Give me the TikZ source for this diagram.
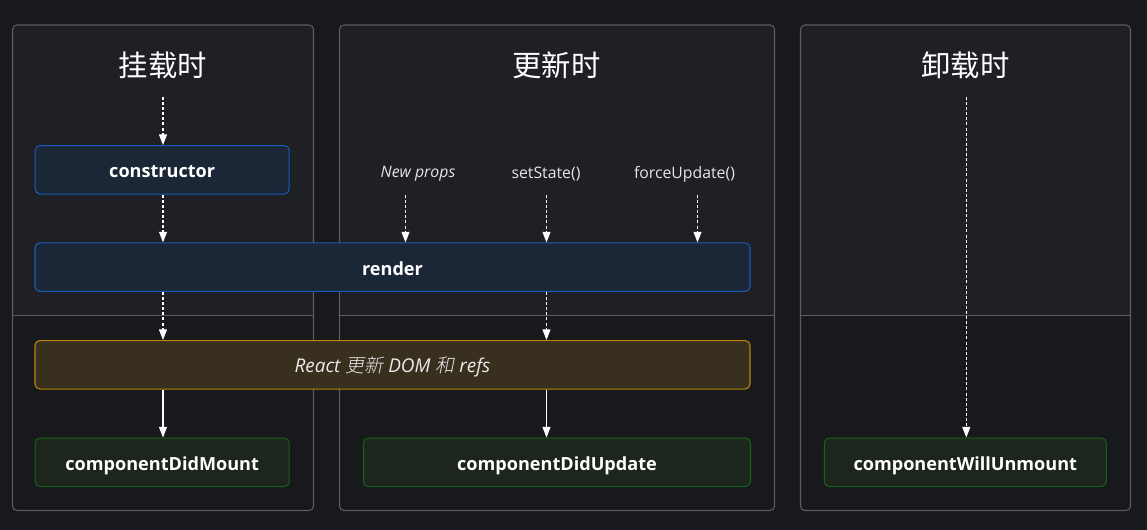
\documentclass[tikz,border=0pt]{standalone}
\usepackage{fontspec}
\setmainfont{Open Sans}
\newfontfamily\cjk{Noto Sans CJK SC}
\newfontfamily\cjkit[FakeSlant=0.2]{Noto Sans CJK SC Light}
\usetikzlibrary{arrows.meta}
\definecolor{bgc}{HTML}{18191D}
\definecolor{panelup}{HTML}{1F2025}
\definecolor{panelline}{HTML}{5C5D61}
\definecolor{bluefill}{HTML}{1B2636}
\definecolor{blueline}{HTML}{1A5BB5}
\definecolor{orangefill}{HTML}{382F1F}
\definecolor{orangeline}{HTML}{B8860B}
\definecolor{greenfill}{HTML}{1D261D}
\definecolor{greenline}{HTML}{176117}
\def\pxu{0.02cm}
\tikzset{
  phase/.style={text=white,font=\cjk\fontsize{16.7}{20}\selectfont},
  trig/.style={text=white!90!black,font=\fontsize{9}{11}\selectfont},
  box/.style={rounded corners=2.8pt,line width=0.6pt,minimum height=48.5*\pxu,inner sep=0pt,text height=0.9em,text depth=0pt,text=white,font=\bfseries\fontsize{10.3}{12}\selectfont},
  bluebox/.style={box,draw=blueline,fill=bluefill},
  orangebox/.style={box,draw=orangeline,fill=orangefill,font=\itshape\fontsize{10.8}{12}\selectfont,text=white!92!black},
  greenbox/.style={box,draw=greenline,fill=greenfill},
  solidarrow/.style={white,line width=0.6pt,-{Triangle[width=4.5pt,length=6pt]}},
  dasharrow/.style={solidarrow,dash pattern=on 1.7pt off 1.2pt}
}
\begin{document}
\begin{tikzpicture}[x=\pxu,y=-\pxu]
\fill[bgc] (0,0) rectangle (1147,530);
\foreach \l/\r in {12.5/313.5,339.5/774.5,800.5/1130.5}{
  \begin{scope}
    \clip[rounded corners=2.5pt] (\l,25) rectangle (\r,510.5);
    \fill[panelup] (\l,25) rectangle (\r,315.3);
  \end{scope}
  \draw[panelline,line width=0.6pt,rounded corners=2.5pt] (\l,25) rectangle (\r,510.5);
  \draw[panelline,line width=0.6pt] (\l,315.3) -- (\r,315.3);
}

\node[phase] (mount) at (163,65) {挂载时};
\node[phase] (update) at (556.5,65) {更新时};
\node[phase] (unmount) at (965.5,65) {卸载时};

\node[trig] (newprops) at (418,174) {\itshape New props};
\node[trig] (setstate) at (546,174) {setState()};
\node[trig] (forceupd) at (684.5,174) {forceUpdate()};

\node[bluebox,minimum width=254*\pxu] (ctor) at (162.2,169.8) {constructor};
\node[bluebox,minimum width=715*\pxu] (render) at (392.5,267.2) {render};
\node[orangebox,minimum width=715*\pxu] (react) at (392.5,364.8) {React {\cjkit 更新} DOM {\cjkit 和} refs};
\node[greenbox,minimum width=254*\pxu] (didmount) at (162.2,462.3) {componentDidMount};
\node[greenbox,minimum width=387*\pxu] (didupdate) at (557,462.3) {componentDidUpdate};
\node[greenbox,minimum width=282*\pxu] (willunmount) at (965.3,462.3) {componentWillUnmount};

\coordinate (mtop) at (163,97);
\coordinate (utop) at (966.3,97);
\coordinate (np) at (405.5,195);
\coordinate (ss) at (546.5,195);
\coordinate (fu) at (697.5,195);

\draw[dasharrow] (mtop) -- (mtop |- ctor.north);
\draw[dasharrow] (ctor.south -| mtop) -- (mtop |- render.north);
\draw[dasharrow] (np) -- (np |- render.north);
\draw[dasharrow] (ss) -- (ss |- render.north);
\draw[dasharrow] (fu) -- (fu |- render.north);
\draw[dasharrow] (render.south -| mtop) -- (react.north -| mtop);
\draw[dasharrow] (render.south -| ss) -- (react.north -| ss);
\draw[solidarrow] (react.south -| mtop) -- (didmount.north -| mtop);
\draw[solidarrow] (react.south -| ss) -- (didupdate.north -| ss);
\draw[dasharrow] (utop) -- (utop |- willunmount.north);
\end{tikzpicture}
\end{document}
